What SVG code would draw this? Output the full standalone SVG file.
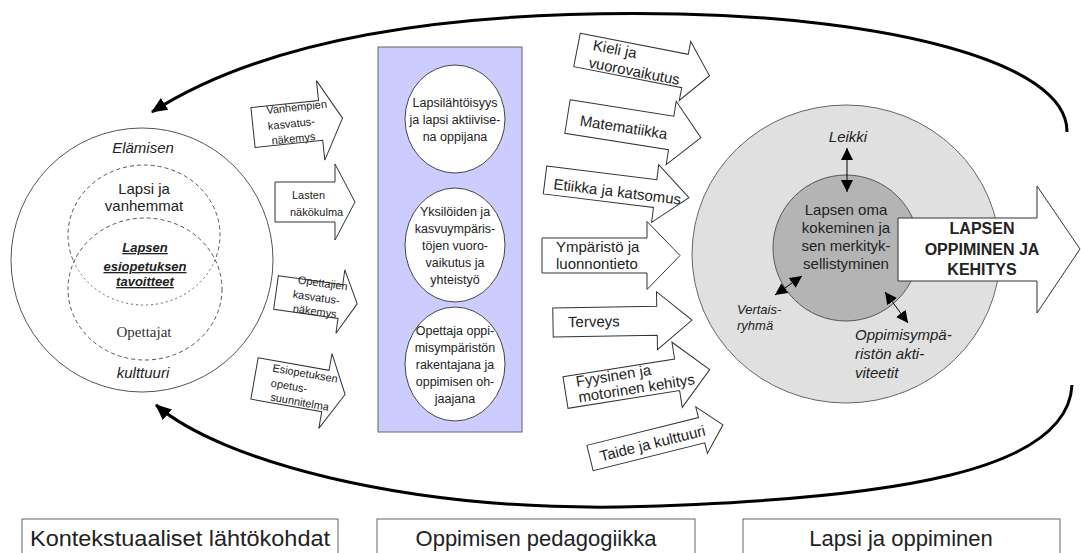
<svg xmlns="http://www.w3.org/2000/svg" width="1081" height="553" viewBox="0 0 1081 553">
<style>
.t{font-family:"Liberation Sans",Arial,sans-serif;fill:#222}
.arw{fill:#fff;stroke:#333;stroke-width:1}
.curve{fill:none;stroke:#000;stroke-width:3}
.dash{fill:none;stroke:#555;stroke-width:1;stroke-dasharray:4,3}
.dot{fill:none;stroke:#666;stroke-width:1;stroke-dasharray:2,3}
.pc{fill:#fff;stroke:#444;stroke-width:1}
.dbl{stroke:#000;stroke-width:1;marker-start:url(#tri);marker-end:url(#tri)}
.box{fill:#fff;stroke:#666;stroke-width:1}
</style>
<defs>
<marker id="big" viewBox="0 0 16 14" refX="15" refY="7" markerWidth="16" markerHeight="14" markerUnits="userSpaceOnUse" orient="auto"><path d="M0,0 L16,7 L0,14 Z" fill="#000"/></marker>
<marker id="tri" viewBox="0 0 12 12" refX="12" refY="6" markerWidth="12" markerHeight="12" markerUnits="userSpaceOnUse" orient="auto-start-reverse"><path d="M0,0 L12,6 L0,12 Z" fill="#000"/></marker>
</defs>
<rect width="1081" height="553" fill="#fff"/>

<g id="connectors">
<path class="curve" d="M1067,132 C1068,60 880,18 680,14 C480,10 280,30 152,112" marker-end="url(#big)"/>
<path class="curve" d="M1072,385 C1068,470 900,500 620,507 C400,510 220,460 156,405" marker-end="url(#big)"/>
</g>

<g id="context-circle">
<ellipse cx="142" cy="260" rx="131" ry="132" fill="#fff" stroke="#555" stroke-width="1"/>
<path class="dash" d="M73,260 A76,70 0 1 1 215,260"/>
<path class="dot" d="M215,260 A76,70 0 0 1 73,260"/>
<ellipse class="dash" cx="145" cy="289" rx="77" ry="71"/>
<text class="t" x="143" y="153" font-size="15" font-style="italic" fill="#555" text-anchor="middle">Elämisen</text>
<text class="t" x="144" y="194" font-size="15" fill="#444" text-anchor="middle">Lapsi ja</text>
<text class="t" x="144" y="211" font-size="15" fill="#444" text-anchor="middle">vanhemmat</text>
<text class="t" x="145" y="252" font-size="13" font-weight="bold" font-style="italic" text-decoration="underline" text-anchor="middle">Lapsen</text>
<text class="t" x="145" y="271" font-size="13" font-weight="bold" font-style="italic" text-decoration="underline" text-anchor="middle">esiopetuksen</text>
<text class="t" x="145" y="286" font-size="13" font-weight="bold" font-style="italic" text-decoration="underline" text-anchor="middle">tavoitteet</text>
<text x="144" y="337" font-size="15" fill="#333" font-family="'Liberation Serif',serif" text-anchor="middle">Opettajat</text>
<text class="t" x="143" y="378" font-size="15" font-style="italic" fill="#555" text-anchor="middle">kulttuuri</text>
</g>

<g id="arrow-vanhempien" transform="translate(253,127.5) rotate(-6)">
<path class="arw" d="M0,-20 H68 V-40 L90,0 L68,40 V20 H0 Z"/>
<text class="t" font-size="11"><tspan x="15" y="-12">Vanhempien</tspan><tspan x="15" y="4">kasvatus-</tspan><tspan x="17" y="19">näkemys</tspan></text>
</g>
<g id="arrow-lasten" transform="translate(275,202)">
<path class="arw" d="M0,-20 H60 V-38 L80,0 L60,38 V20 H0 Z"/>
<text class="t" font-size="11"><tspan x="17" y="-3">Lasten</tspan><tspan x="15" y="14">näkökulma</tspan></text>
</g>
<g id="arrow-opettajien" transform="translate(276,292.5) rotate(8)">
<path class="arw" d="M0,-17 H65 V-32 L82,0 L65,32 V17 H0 Z"/>
<text class="t" font-size="11"><tspan x="20" y="-12">Opettajien</tspan><tspan x="17" y="3">kasvatus-</tspan><tspan x="19" y="17">näkemys</tspan></text>
</g>
<g id="arrow-esiopetuksen" transform="translate(254.5,378.5) rotate(10)">
<path class="arw" d="M0,-21 H72 V-38 L92,0 L72,38 V21 H0 Z"/>
<text class="t" font-size="11"><tspan x="16" y="-10">Esiopetuksen</tspan><tspan x="17" y="5">opetus-</tspan><tspan x="19" y="19">suunnitelma</tspan></text>
</g>

<g id="pedagogy">
<rect x="378" y="47" width="144" height="385" fill="#ccccff" stroke="#666" stroke-width="1"/>
</g>
<g id="ped-1">
<ellipse class="pc" cx="455" cy="119" rx="50" ry="54"/>
<text class="t" font-size="12.5" fill="#333" text-anchor="middle"><tspan x="455" y="107">Lapsilähtöisyys</tspan><tspan x="455" y="124">ja lapsi aktiivise-</tspan><tspan x="455" y="141">na oppijana</tspan></text>
</g>
<g id="ped-2">
<ellipse class="pc" cx="455" cy="245" rx="50" ry="57"/>
<text class="t" font-size="12.5" fill="#333" text-anchor="middle"><tspan x="455" y="216">Yksilöiden ja</tspan><tspan x="455" y="233">kasvuympäris-</tspan><tspan x="455" y="250">töjen vuoro-</tspan><tspan x="455" y="267">vaikutus ja</tspan><tspan x="455" y="284">yhteistyö</tspan></text>
</g>
<g id="ped-3">
<ellipse class="pc" cx="455" cy="364" rx="50" ry="57"/>
<text class="t" font-size="12.5" fill="#333" text-anchor="middle"><tspan x="455" y="335">Opettaja oppi-</tspan><tspan x="455" y="352">misympäristön</tspan><tspan x="455" y="369">rakentajana ja</tspan><tspan x="455" y="386">oppimisen oh-</tspan><tspan x="455" y="403">jaajana</tspan></text>
</g>

<g id="child-circle">
<ellipse cx="846" cy="254" rx="154" ry="149" fill="#e0e0e0" stroke="#666" stroke-width="1"/>
<circle cx="846" cy="248" r="73" fill="#b4b4b4" stroke="#555" stroke-width="1"/>
<text class="t" font-size="15" fill="#444" text-anchor="middle"><tspan x="846" y="215">Lapsen oma</tspan><tspan x="846" y="233">kokeminen ja</tspan><tspan x="846" y="251">sen merkityk-</tspan><tspan x="846" y="269">sellistyminen</tspan></text>
<text class="t" x="848" y="142" font-size="15" font-style="italic" fill="#444" text-anchor="middle">Leikki</text>
<text class="t" font-size="13" font-style="italic" fill="#444"><tspan x="737" y="314">Vertais-</tspan><tspan x="737" y="330">ryhmä</tspan></text>
<text class="t" font-size="15" font-style="italic" fill="#444"><tspan x="855" y="340">Oppimisympä-</tspan><tspan x="855" y="359">ristön akti-</tspan><tspan x="855" y="378">viteetit</tspan></text>
<line class="dbl" x1="847" y1="148" x2="847" y2="192"/>
<line class="dbl" x1="775" y1="295" x2="802" y2="276"/>
<line class="dbl" x1="885" y1="292" x2="908" y2="323"/>
</g>

<g id="arrow-kieli" transform="translate(577,50) rotate(11)">
<path class="arw" d="M0,-17 H110 V-30 L135,0 L110,30 V17 H0 Z"/>
<text class="t" font-size="15"><tspan x="15" y="-3">Kieli ja</tspan><tspan x="14" y="15">vuorovaikutus</tspan></text>
</g>
<g id="arrow-matematiikka" transform="translate(567.5,116.5) rotate(9)">
<path class="arw" d="M0,-17 H105 V-32 L135,0 L105,32 V17 H0 Z"/>
<text class="t" font-size="15" x="13" y="7">Matematiikka</text>
</g>
<g id="arrow-etiikka" transform="translate(545,180) rotate(7)">
<path class="arw" d="M0,-14 H111 V-29 L145,0 L111,29 V14 H0 Z"/>
<text class="t" font-size="15" x="9" y="8">Etiikka ja katsomus</text>
</g>
<g id="arrow-ymparisto" transform="translate(542,255.5)">
<path class="arw" d="M0,-17.5 H105 V-34 L138,0 L105,34 V17.5 H0 Z"/>
<text class="t" font-size="15"><tspan x="14" y="-4">Ympäristö ja</tspan><tspan x="14" y="13">luonnontieto</tspan></text>
</g>
<g id="arrow-terveys" transform="translate(553,322.5) rotate(-1)">
<path class="arw" d="M0,-14.5 H104 V-29 L139,0 L104,29 V14.5 H0 Z"/>
<text class="t" font-size="15" x="15" y="5">Terveys</text>
</g>
<g id="arrow-fyysinen" transform="translate(565.5,392.5) rotate(-9)">
<path class="arw" d="M0,-16 H113 V-33 L146,0 L113,33 V16 H0 Z"/>
<text class="t" font-size="15"><tspan x="12" y="-4">Fyysinen ja</tspan><tspan x="12" y="12">motorinen kehitys</tspan></text>
</g>
<g id="arrow-taide" transform="translate(590,458) rotate(-14)">
<path class="arw" d="M0,-13 H115 V-24 L137,0 L115,24 V13 H0 Z"/>
<text class="t" font-size="15" x="10" y="6">Taide ja kulttuuri</text>
</g>

<g id="arrow-lapsen-oppiminen">
<path class="arw" d="M898,218 H1037 V186 L1080,249 L1037,313 V281 H898 Z"/>
<text class="t" font-size="16" font-weight="bold" fill="#111" text-anchor="middle"><tspan x="982" y="234">LAPSEN</tspan><tspan x="982" y="255">OPPIMINEN JA</tspan><tspan x="982" y="275">KEHITYS</tspan></text>
</g>

<g id="label-konteksti">
<rect class="box" x="22" y="519" width="316" height="40"/>
<text class="t" x="180" y="546" font-size="22" text-anchor="middle" textLength="300" lengthAdjust="spacingAndGlyphs">Kontekstuaaliset lähtökohdat</text>
</g>
<g id="label-pedagogiikka">
<rect class="box" x="377" y="519" width="318" height="40"/>
<text class="t" x="536" y="546" font-size="22" text-anchor="middle">Oppimisen pedagogiikka</text>
</g>
<g id="label-lapsi">
<rect class="box" x="743" y="519" width="317" height="40"/>
<text class="t" x="901" y="546" font-size="22" text-anchor="middle">Lapsi ja oppiminen</text>
</g>
</svg>
